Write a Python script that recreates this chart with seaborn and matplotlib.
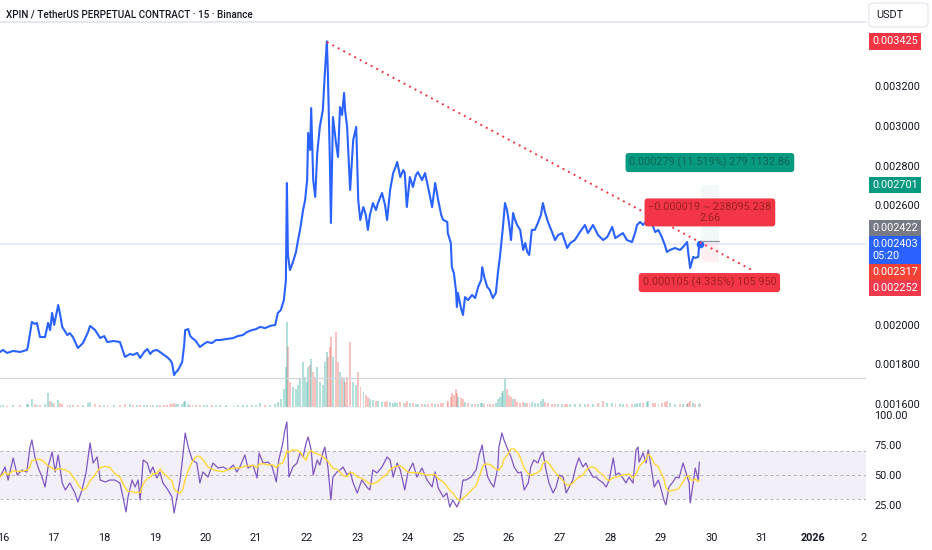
import numpy as np
import pandas as pd
import matplotlib
matplotlib.use('Agg')
import matplotlib.pyplot as plt
import matplotlib.transforms as mtransforms
from matplotlib.lines import Line2D
from matplotlib.patches import FancyBboxPatch
import seaborn as sns

# XPIN/USDT perpetual, 15m bars
# time = days after 2025-12-16 00:00
price_t = [-0.06, 0.00, 0.08, 0.20, 0.34, 0.47, 0.49, 0.57, 0.63, 0.67,
           0.73, 0.83, 0.89, 0.93, 0.97, 1.01, 1.09, 1.13, 1.17, 1.27,
           1.32, 1.38, 1.48, 1.58, 1.68, 1.72, 1.82, 1.92, 2.00, 2.06,
           2.19, 2.31, 2.41, 2.51, 2.57, 2.65, 2.71, 2.79, 2.85, 2.91,
           2.96, 3.04, 3.10, 3.18, 3.24, 3.30, 3.34, 3.38, 3.42, 3.46,
           3.54, 3.58, 3.60, 3.66, 3.70, 3.74, 3.81, 3.89, 3.97, 4.03,
           4.13, 4.21, 4.29, 4.41, 4.55, 4.64, 4.74, 4.82, 4.92, 5.00,
           5.08, 5.18, 5.28, 5.38, 5.43, 5.49, 5.55, 5.59, 5.61, 5.63,
           5.67, 5.73, 5.79, 5.83, 5.87, 5.93, 5.97, 6.01, 6.03, 6.07,
           6.09, 6.13, 6.17, 6.21, 6.26, 6.32, 6.36, 6.40, 6.42, 6.46,
           6.48, 6.52, 6.58, 6.62, 6.66, 6.70, 6.74, 6.76, 6.80, 6.86,
           6.92, 6.98, 7.02, 7.06, 7.12, 7.17, 7.21, 7.25, 7.31, 7.37,
           7.41, 7.49, 7.55, 7.59, 7.65, 7.71, 7.75, 7.79, 7.85, 7.91,
           7.94, 7.98, 8.04, 8.10, 8.16, 8.20, 8.28, 8.34, 8.40, 8.48,
           8.54, 8.60, 8.66, 8.70, 8.78, 8.79, 8.85, 8.87, 8.91, 8.95,
           8.97, 8.99, 9.05, 9.09, 9.13, 9.19, 9.27, 9.33, 9.39, 9.45,
           9.47, 9.51, 9.57, 9.62, 9.68, 9.74, 9.78, 9.82, 9.86, 9.88,
           9.92, 9.96, 10.00, 10.04, 10.08, 10.12, 10.16, 10.22, 10.28, 10.32,
           10.36, 10.40, 10.45, 10.51, 10.57, 10.63, 10.67, 10.71, 10.77, 10.85,
           10.91, 10.97, 11.05, 11.11, 11.15, 11.21, 11.30, 11.40, 11.50, 11.56,
           11.66, 11.76, 11.86, 11.94, 12.04, 12.10, 12.19, 12.25, 12.33, 12.43,
           12.49, 12.53, 12.59, 12.65, 12.73, 12.75, 12.85, 12.89, 12.95, 13.02,
           13.08, 13.12, 13.18, 13.28, 13.38, 13.44, 13.52, 13.54, 13.58, 13.64,
           13.68, 13.74, 13.76, 13.78]

price = [0.001862, 0.001872, 0.001857, 0.001867, 0.001862, 0.001872, 0.001887, 0.002013, 0.002003, 0.002008,
         0.001937, 0.001937, 0.002008, 0.001972, 0.002058, 0.001998, 0.002098, 0.002048, 0.001988, 0.001947,
         0.001957, 0.001937, 0.001882, 0.001907, 0.001962, 0.001993, 0.001972, 0.001932, 0.001942, 0.001912,
         0.001917, 0.001912, 0.001837, 0.001852, 0.001847, 0.001857, 0.001832, 0.001862, 0.001877, 0.001852,
         0.001867, 0.001872, 0.001862, 0.001847, 0.001837, 0.001822, 0.001806, 0.001746, 0.001761, 0.001771,
         0.001811, 0.001897, 0.001972, 0.001977, 0.001942, 0.001932, 0.001917, 0.001887, 0.001902, 0.001912,
         0.001907, 0.001922, 0.001922, 0.001927, 0.001932, 0.001942, 0.001947, 0.001962, 0.001972, 0.001977,
         0.001988, 0.001982, 0.001993, 0.001998, 0.002058, 0.002073, 0.002123, 0.002224, 0.002712, 0.002350,
         0.002274, 0.002315, 0.002365, 0.002425, 0.002476, 0.002576, 0.002626, 0.002727, 0.002964, 0.002878,
         0.003089, 0.002727, 0.002642, 0.002863, 0.002994, 0.003079, 0.003265, 0.003425, 0.003265, 0.002813,
         0.002511, 0.003044, 0.002913, 0.002843, 0.003094, 0.003054, 0.003165, 0.003079, 0.002994, 0.002677,
         0.002928, 0.002994, 0.002626, 0.002526, 0.002591, 0.002551, 0.002476, 0.002551, 0.002611, 0.002576,
         0.002611, 0.002662, 0.002601, 0.002526, 0.002677, 0.002762, 0.002787, 0.002818, 0.002742, 0.002777,
         0.002762, 0.002591, 0.002742, 0.002692, 0.002752, 0.002767, 0.002727, 0.002762, 0.002692, 0.002591,
         0.002712, 0.002626, 0.002551, 0.002526, 0.002516, 0.002460, 0.002410, 0.002289, 0.002259, 0.002174,
         0.002088, 0.002159, 0.002083, 0.002048, 0.002138, 0.002123, 0.002149, 0.002133, 0.002189, 0.002224,
         0.002289, 0.002239, 0.002189, 0.002174, 0.002133, 0.002159, 0.002259, 0.002340, 0.002440, 0.002491,
         0.002611, 0.002576, 0.002511, 0.002425, 0.002561, 0.002526, 0.002501, 0.002476, 0.002375, 0.002410,
         0.002365, 0.002350, 0.002476, 0.002476, 0.002511, 0.002551, 0.002611, 0.002566, 0.002516, 0.002465,
         0.002425, 0.002450, 0.002460, 0.002415, 0.002385, 0.002410, 0.002425, 0.002465, 0.002501, 0.002460,
         0.002501, 0.002450, 0.002425, 0.002440, 0.002491, 0.002435, 0.002450, 0.002460, 0.002425, 0.002415,
         0.002460, 0.002501, 0.002516, 0.002501, 0.002526, 0.002551, 0.002491, 0.002465, 0.002476, 0.002440,
         0.002400, 0.002365, 0.002375, 0.002385, 0.002375, 0.002390, 0.002415, 0.002365, 0.002284, 0.002340,
         0.002335, 0.002340, 0.002410, 0.002403]

# volume per bar above (millions, rough)
volume = [2, 2, 1, 2, 2, 3, 3, 8, 3, 2,
          2, 3, 14, 6, 5, 3, 7, 4, 3, 2,
          2, 2, 2, 2, 4, 5, 3, 2, 2, 2,
          2, 2, 3, 3, 2, 2, 2, 2, 2, 2,
          2, 2, 2, 2, 2, 3, 3, 4, 3, 3,
          3, 5, 6, 3, 2, 2, 2, 2, 2, 2,
          2, 2, 2, 2, 2, 2, 2, 2, 2, 2,
          4, 2, 2, 3, 5, 8, 18, 40, 85, 60,
          25, 20, 18, 22, 28, 45, 30, 25, 40, 42,
          48, 35, 30, 40, 25, 22, 45, 55, 50, 60,
          70, 50, 75, 45, 35, 30, 28, 25, 30, 65,
          25, 22, 35, 20, 15, 12, 10, 8, 7, 6,
          6, 5, 5, 6, 5, 4, 5, 4, 5, 4,
          4, 6, 4, 4, 3, 3, 3, 3, 3, 4,
          3, 3, 4, 4, 5, 6, 10, 14, 12, 18,
          14, 10, 9, 8, 5, 4, 3, 3, 3, 4,
          4, 3, 3, 3, 3, 4, 8, 10, 14, 16,
          28, 18, 12, 10, 8, 8, 5, 4, 5, 4,
          4, 4, 5, 4, 4, 6, 8, 5, 4, 3,
          3, 3, 3, 3, 3, 3, 3, 3, 3, 3,
          3, 4, 6, 4, 4, 3, 3, 3, 3, 3,
          3, 4, 4, 4, 5, 6, 4, 4, 3, 4,
          5, 6, 4, 3, 3, 3, 3, 4, 6, 4,
          3, 3, 4, 3]

rsi_t = [-0.06, 0.04, 0.10, 0.20, 0.28, 0.38, 0.47, 0.53, 0.57, 0.63,
         0.69, 0.77, 0.83, 0.89, 0.97, 1.03, 1.09, 1.17, 1.23, 1.32,
         1.42, 1.48, 1.56, 1.64, 1.72, 1.78, 1.86, 1.92, 2.02, 2.11,
         2.21, 2.31, 2.37, 2.43, 2.47, 2.55, 2.61, 2.67, 2.71, 2.77,
         2.85, 2.91, 2.96, 3.04, 3.10, 3.16, 3.26, 3.34, 3.38, 3.44,
         3.50, 3.56, 3.60, 3.66, 3.74, 3.83, 3.89, 3.95, 4.05, 4.15,
         4.25, 4.35, 4.45, 4.55, 4.62, 4.68, 4.78, 4.84, 4.94, 5.02,
         5.06, 5.14, 5.24, 5.32, 5.40, 5.45, 5.53, 5.57, 5.61, 5.65,
         5.73, 5.81, 5.87, 5.93, 5.99, 6.03, 6.09, 6.13, 6.21, 6.26,
         6.32, 6.36, 6.42, 6.48, 6.52, 6.60, 6.66, 6.72, 6.80, 6.86,
         6.92, 7.00, 7.09, 7.19, 7.25, 7.31, 7.39, 7.49, 7.59, 7.65,
         7.71, 7.79, 7.85, 7.94, 8.00, 8.10, 8.18, 8.28, 8.38, 8.48,
         8.54, 8.60, 8.70, 8.77, 8.83, 8.89, 8.97, 9.03, 9.09, 9.15,
         9.25, 9.35, 9.41, 9.47, 9.51, 9.58, 9.64, 9.70, 9.78, 9.80,
         9.86, 9.90, 9.98, 10.04, 10.10, 10.18, 10.24, 10.30, 10.38, 10.43,
         10.49, 10.57, 10.63, 10.67, 10.73, 10.79, 10.87, 10.93, 10.99, 11.07,
         11.13, 11.19, 11.26, 11.32, 11.38, 11.46, 11.52, 11.58, 11.66, 11.72,
         11.78, 11.86, 11.92, 11.98, 12.06, 12.11, 12.17, 12.25, 12.31, 12.37,
         12.45, 12.51, 12.55, 12.57, 12.65, 12.71, 12.75, 12.81, 12.87, 12.95,
         13.00, 13.06, 13.10, 13.16, 13.24, 13.30, 13.36, 13.44, 13.50, 13.56,
         13.58, 13.64, 13.68, 13.74, 13.76]

rsi_val = [48.3, 56.7, 45.8, 64.2, 50.0, 54.2, 52.5, 72.5, 79.2, 65.0,
           56.7, 48.3, 40.0, 56.7, 69.2, 52.5, 66.7, 43.3, 37.5, 43.3,
           35.0, 27.5, 37.5, 51.7, 76.7, 60.0, 65.0, 45.8, 44.2, 45.8,
           45.8, 43.3, 31.7, 19.2, 31.7, 45.8, 40.0, 45.8, 29.2, 62.5,
           60.0, 51.7, 56.7, 47.5, 52.5, 43.3, 37.5, 31.7, 18.3, 31.7,
           45.8, 68.3, 85.0, 73.3, 62.5, 60.0, 43.3, 52.5, 48.3, 60.0,
           55.8, 56.7, 54.2, 58.3, 52.5, 56.7, 66.7, 55.8, 58.3, 47.5,
           68.3, 60.0, 60.8, 56.7, 44.2, 62.5, 76.7, 87.5, 94.2, 48.3,
           56.7, 60.0, 68.3, 65.0, 76.7, 81.7, 70.8, 50.0, 62.5, 58.3,
           68.3, 73.3, 56.7, 29.2, 48.3, 52.5, 54.2, 56.7, 50.0, 52.5,
           43.3, 35.0, 45.8, 40.0, 37.5, 54.2, 51.7, 56.7, 65.0, 62.5,
           48.3, 60.0, 54.2, 37.5, 51.7, 60.0, 48.3, 55.8, 45.8, 40.0,
           52.5, 39.2, 31.7, 35.0, 23.3, 29.2, 23.3, 29.2, 45.8, 45.8,
           48.3, 54.2, 66.7, 75.0, 62.5, 48.3, 43.3, 40.0, 56.7, 73.3,
           85.0, 79.2, 70.8, 65.0, 56.7, 51.7, 52.5, 37.5, 43.3, 56.7,
           62.5, 60.0, 66.7, 69.2, 54.2, 43.3, 35.0, 40.0, 50.0, 48.3,
           35.0, 40.0, 45.8, 56.7, 64.2, 56.7, 60.0, 54.2, 48.3, 48.3,
           45.8, 43.3, 40.0, 45.8, 64.2, 50.0, 51.7, 47.5, 43.3, 48.3,
           43.3, 70.8, 73.3, 60.8, 68.3, 60.0, 70.8, 56.7, 40.0, 45.8,
           39.2, 29.2, 25.0, 40.0, 44.2, 48.3, 47.5, 60.0, 51.7, 43.3,
           26.7, 43.3, 55.8, 45.8, 60.8]

# drawings
trend_t = [6.40, 14.80]
trend_p = [0.003421, 0.002274]
pos_t = [13.79, 14.15]
entry = 0.002422
take_profit = 0.002701
stop_loss = 0.002317
last_price = 0.002403
hline_price = 0.001731

day_ticks = list(range(0, 18))
day_labels = [str(d) for d in range(16, 32)] + ['2026', '2']
price_ticks = [0.0016, 0.0018, 0.0020, 0.0026, 0.0028, 0.0030, 0.0032]
rsi_ticks = [25, 50, 75, 100]

BLUE = '#2962ff'
RED = '#f23645'
TEAL = '#089981'
TXT = '#131722'

sns.set_theme(style='white')
plt.rcParams['font.family'] = ['Roboto', 'DejaVu Sans']

W, H = 932, 550
fig = plt.figure(figsize=(W / 100, H / 100), dpi=100)
fig.patch.set_facecolor('white')
right = 866 / W
x0, x1 = -0.06, 17.055

ax_v = fig.add_axes([0, 1 - 407 / H, right, 107 / H])
ax_p = fig.add_axes([0, 1 - 410 / H, right, 388 / H])
ax_r = fig.add_axes([0, 1 - 525 / H, right, 115 / H])
ax_p.set_zorder(2)
ax_p.patch.set_alpha(0)

for a in (ax_v, ax_p, ax_r):
    a.set_xlim(x0, x1)
    for s in a.spines.values():
        s.set_visible(False)

# volume, coloured by the bar's price move
col = ['#26a69a' if i == 0 or price[i] >= price[i - 1] else '#ef5350' for i in range(len(price))]
ax_v.bar(price_t, volume, width=0.03, color=col, alpha=0.35, linewidth=0)
ax_v.set_ylim(0, 107)
ax_v.set_xticks([])
ax_v.set_yticks([])

# price
ax_p.axhline(last_price, color=BLUE, alpha=0.13, lw=1.2)
ax_p.axhline(hline_price, color='#d1d4dc', lw=0.9)
sns.lineplot(x=price_t, y=price, ax=ax_p, color=BLUE, lw=1.5, estimator=None, sort=False)
ax_p.plot(price_t[-1], price[-1], 'o', ms=4.5, color=BLUE)
ax_p.plot(trend_t, trend_p, color=RED, lw=1.4, ls=(0, (1, 2.2)))

# long position tool
ax_p.fill_between(pos_t, entry, take_profit, color=TEAL, alpha=0.05, lw=0)
ax_p.fill_between(pos_t, stop_loss, entry, color=RED, alpha=0.07, lw=0)
ax_p.plot(pos_t, [entry, entry], color='#9598a1', lw=0.9)

ax_p.set_ylim(0.001570, 0.003522)
ax_p.set_xticks([])
ax_p.yaxis.tick_right()
ax_p.set_yticks(price_ticks)
ax_p.set_yticklabels([f'{v:.6f}' for v in price_ticks])
ax_p.tick_params(axis='y', length=0, pad=6, labelsize=7.8, labelcolor=TXT)

box_kw = dict(ha='center', va='center', fontsize=7.8, zorder=5)
ax_p.text(13.97, 0.002815, '0.000279 (11.519%) 279 1132.86', color='#0e6656',
          bbox=dict(boxstyle='round,pad=0.35,rounding_size=0.3', fc=TEAL, ec='none'), **box_kw)
ax_p.text(13.97, 0.002564, '\u22120.000019 ~ 238095.238\n2.66', color='#9e211d', linespacing=1.05,
          bbox=dict(boxstyle='round,pad=0.35,rounding_size=0.3', fc=RED, ec='none'), **box_kw)
ax_p.text(13.96, 0.002211, '0.000105 (4.335%) 105 950', color='#9e211d',
          bbox=dict(boxstyle='round,pad=0.35,rounding_size=0.3', fc=RED, ec='none'), **box_kw)

# price scale labels
trans = mtransforms.blended_transform_factory(ax_p.transAxes, ax_p.transData)
scale_labels = [
    (0.003425, '0.003425', RED),
    (0.002701, '0.002701', TEAL),
    (0.002486, '0.002422', '#787b86'),
    (0.002375, '0.002403\n05:20', BLUE),
    (0.002264, '0.002317', '#f44336'),
    (0.002184, '0.002252', '#ef3a4e'),
]
for yv, txt, c in scale_labels:
    ax_p.text(1.0 + 6 / 866, yv, txt, transform=trans, ha='left', va='center', fontsize=7.8,
              color='white', linespacing=1.25, clip_on=False, zorder=6,
              bbox=dict(boxstyle='square,pad=0.3', fc=c, ec='none'))

# RSI
ax_r.axhspan(30, 70, color='#7e57c2', alpha=0.09, lw=0)
for lvl in (70, 50, 30):
    ax_r.axhline(lvl, color='#9598a1', lw=0.7, ls=(0, (3, 3)), alpha=0.7)
sns.lineplot(x=rsi_t, y=rsi_val, ax=ax_r, color='#7e57c2', lw=0.9, estimator=None, sort=False)
rsi_ma = pd.Series(rsi_val).rolling(6, min_periods=1).mean()
sns.lineplot(x=rsi_t, y=rsi_ma.values, ax=ax_r, color='#fdd835', lw=1.0, estimator=None, sort=False)
ax_r.set_ylim(8.3, 104.2)
ax_r.yaxis.tick_right()
ax_r.set_yticks(rsi_ticks)
ax_r.set_yticklabels([f'{v:.2f}' for v in rsi_ticks])
ax_r.tick_params(axis='y', length=0, pad=6, labelsize=7.8, labelcolor=TXT)
ax_r.set_xticks(day_ticks)
ax_r.set_xticklabels(day_labels)
ax_r.tick_params(axis='x', length=0, pad=6, labelsize=7.8, labelcolor=TXT)
for lab in ax_r.get_xticklabels():
    if lab.get_text() == '2026':
        lab.set_fontweight('bold')
for a in (ax_p, ax_r):
    a.set_xlabel('')
    a.set_ylabel('')

# header
fig.text(6 / W, 1 - 14 / H, 'XPIN / TetherUS PERPETUAL CONTRACT \u00b7 15 \u00b7 Binance',
         ha='left', va='center', fontsize=7.1, fontweight='medium', color=TXT)
fig.add_artist(Line2D([0, right], [1 - 22 / H, 1 - 22 / H], color='#e0e3eb', lw=1.2))
fig.add_artist(FancyBboxPatch((869 / W, 1 - 27 / H), 59 / W, 24 / H,
                              boxstyle='round,pad=0,rounding_size=0.006',
                              fc='white', ec='#e0e3eb', lw=0.8, transform=fig.transFigure))
fig.text(876 / W, 1 - 15 / H, 'USDT', ha='left', va='center', fontsize=7.8, color=TXT)

fig.savefig('out.png', dpi=100, facecolor='white')
